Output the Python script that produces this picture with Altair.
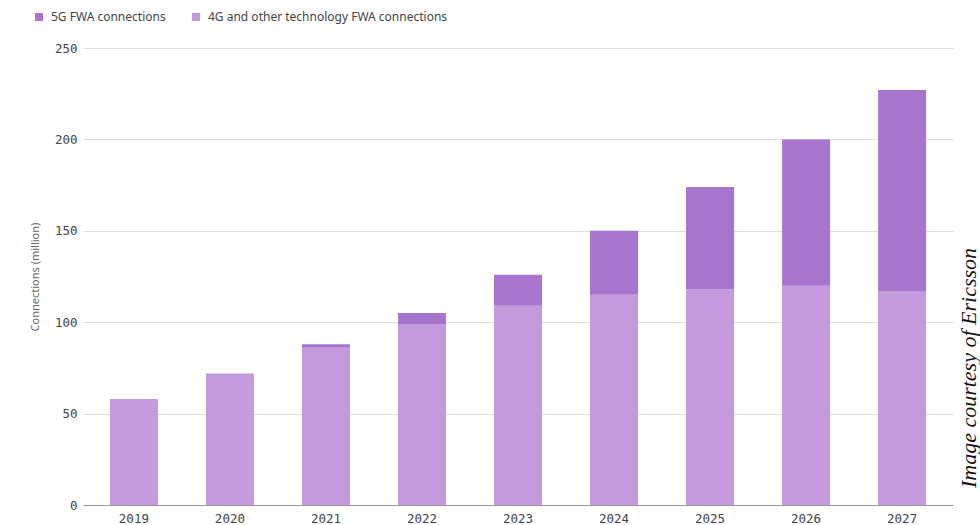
import altair as alt
import pandas as pd

years = ["2019", "2020", "2021", "2022", "2023", "2024", "2025", "2026", "2027"]
fwa_4g = [58, 72, 86, 99, 109, 115, 118, 120, 117]
fwa_5g = [0, 0, 2, 6, 17, 35, 56, 80, 110]
series = ["5G FWA connections", "4G and other technology FWA connections"]
colors = ["#A875CE", "#C39BDD"]

rows = []
for y, a, b in zip(years, fwa_4g, fwa_5g):
    rows.append({"year": y, "series": series[1], "value": a, "ord": 0})
    rows.append({"year": y, "series": series[0], "value": b, "ord": 1})
df = pd.DataFrame(rows)

bars = alt.Chart(df).mark_bar().encode(
    x=alt.X("year:N", sort=years,
            scale=alt.Scale(paddingInner=0.5, paddingOuter=0.28),
            axis=alt.Axis(title=None, labelAngle=0, labelFont="DejaVu Sans Mono",
                          labelFontSize=12.5, labelColor="#444", labelPadding=7,
                          ticks=False, domainColor="#999", domainWidth=1, grid=False)),
    y=alt.Y("value:Q", stack="zero",
            scale=alt.Scale(domain=[0, 250], nice=False),
            axis=alt.Axis(values=[0, 50, 100, 150, 200, 250], title="Connections (million)",
                          titleFont="Noto Sans", titleFontSize=11, titleFontWeight="normal",
                          titleColor="#666666", titlePadding=14,
                          labelFont="DejaVu Sans Mono", labelFontSize=12.5, labelColor="#444",
                          labelPadding=6, ticks=False, domain=False,
                          gridColor="#dcdcdc", gridWidth=1)),
    color=alt.Color("series:N",
                    scale=alt.Scale(domain=series, range=colors),
                    legend=alt.Legend(title=None, orient="none", direction="horizontal",
                                      legendX=-50, legendY=-37, symbolType="square",
                                      symbolSize=64, symbolStrokeWidth=0,
                                      labelFont="Noto Sans", labelFontSize=12,
                                      labelLimit=400,
                                      labelColor="#444", columnPadding=24, labelOffset=6)),
    order=alt.Order("ord:Q"),
)

note = alt.Chart(pd.DataFrame({"t": ["Image courtesy of Ericsson"]})).mark_text(
    angle=270, font="Liberation Serif", fontStyle="italic", fontSize=22,
    color="#111", align="center", baseline="middle"
).encode(text="t:N", x=alt.value(886), y=alt.value(320))

chart = alt.layer(bars, note).properties(
    width=870, height=457,
    padding={"left": 83, "top": 48, "right": 27, "bottom": 20},
    autosize=alt.AutoSizeParams(type="none"),
    background="white",
).configure_view(stroke=None)

chart.save("out.html", embed_options={"renderer": "svg", "actions": False})
